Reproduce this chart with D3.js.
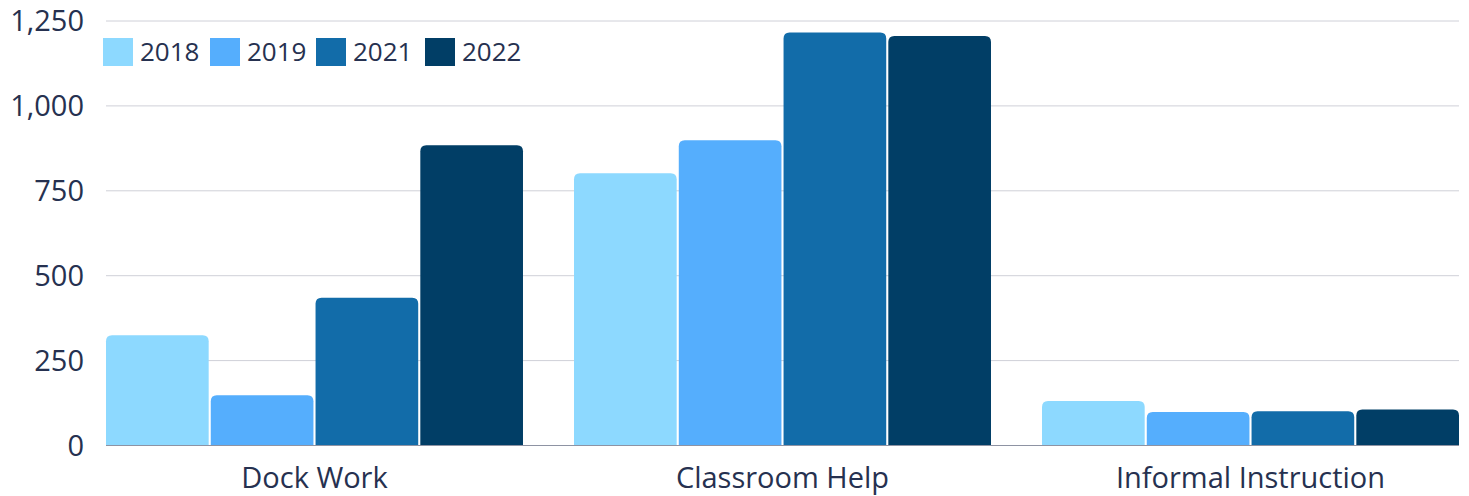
<!DOCTYPE html>
<meta charset="utf-8">
<script src="https://d3js.org/d3.v7.min.js"></script>
<style>
  body { margin: 0; background: #fff; }
  text { font-family: "Open Sans", sans-serif; fill: #263150; }
</style>
<div id="chart"></div>
<script>
// data
var categories = ["Dock Work", "Classroom Help", "Informal Instruction"];
var years = ["2018", "2019", "2021", "2022"];
var values2018 = [325, 802, 131];
var values2019 = [148, 899, 99];
var values2021 = [435, 1216, 101];
var values2022 = [884, 1206, 106];
var yTicks = [0, 250, 500, 750, 1000, 1250];
var colors = ["#8dd9ff", "#55aefd", "#126ca9", "#013e66"];

var series = [values2018, values2019, values2021, values2022];

var width = 1469, height = 496;
var svg = d3.select("#chart").append("svg")
    .attr("width", width)
    .attr("height", height);

var x0 = d3.scaleBand()
    .domain(categories)
    .range([106, 1459])
    .paddingInner(0.109)
    .paddingOuter(0);

var x1 = d3.scaleBand()
    .domain(years)
    .range([0, x0.bandwidth()])
    .paddingInner(0.02);

var y = d3.scaleLinear()
    .domain([0, 1250])
    .range([445.5, 21]);

// gridlines
svg.append("g")
    .selectAll("line")
    .data(yTicks.filter(function(d) { return d > 0; }))
    .enter().append("line")
    .attr("x1", 106)
    .attr("x2", 1459)
    .attr("y1", function(d) { return y(d); })
    .attr("y2", function(d) { return y(d); })
    .attr("stroke", "#cfd0d8")
    .attr("stroke-width", 1);

// y labels
svg.append("g")
    .selectAll("text")
    .data(yTicks)
    .enter().append("text")
    .attr("x", 84)
    .attr("y", function(d) { return y(d); })
    .attr("dy", "0.36em")
    .attr("text-anchor", "end")
    .style("font-size", "29px")
    .text(function(d) { return d3.format(",")(d); });

// bars with rounded tops
function topRounded(x, yTop, w, h, r) {
  r = Math.min(r, h, w / 2);
  return "M" + x + "," + (yTop + h) +
    "V" + (yTop + r) +
    "Q" + x + "," + yTop + " " + (x + r) + "," + yTop +
    "H" + (x + w - r) +
    "Q" + (x + w) + "," + yTop + " " + (x + w) + "," + (yTop + r) +
    "V" + (yTop + h) + "Z";
}

var rows = [];
categories.forEach(function(c, i) {
  years.forEach(function(yr, j) {
    rows.push({cat: c, year: yr, value: series[j][i], color: colors[j]});
  });
});

svg.append("g")
    .selectAll("path")
    .data(rows)
    .enter().append("path")
    .attr("d", function(d) {
      var bx = x0(d.cat) + x1(d.year);
      var by = y(d.value);
      return topRounded(bx, by, x1.bandwidth(), y(0) - by, 6);
    })
    .attr("fill", function(d) { return d.color; });

// baseline
svg.append("line")
    .attr("x1", 106)
    .attr("x2", 1459)
    .attr("y1", y(0))
    .attr("y2", y(0))
    .attr("stroke", "#8e93a3")
    .attr("stroke-width", 1.2);

// category labels
svg.append("g")
    .selectAll("text")
    .data(categories)
    .enter().append("text")
    .attr("x", function(d) { return x0(d) + x0.bandwidth() / 2; })
    .attr("y", 488)
    .attr("text-anchor", "middle")
    .style("font-size", "29px")
    .text(function(d) { return d; });

// legend
var legendX = [103, 210, 316, 425];
var legend = svg.append("g")
    .selectAll("g")
    .data(years)
    .enter().append("g")
    .attr("transform", function(d, i) { return "translate(" + legendX[i] + ",38)"; });

legend.append("rect")
    .attr("width", 30)
    .attr("height", 28)
    .attr("fill", function(d, i) { return colors[i]; });

legend.append("text")
    .attr("x", 37)
    .attr("y", 14)
    .attr("dy", "0.36em")
    .style("font-size", "26px")
    .text(function(d) { return d; });
</script>
